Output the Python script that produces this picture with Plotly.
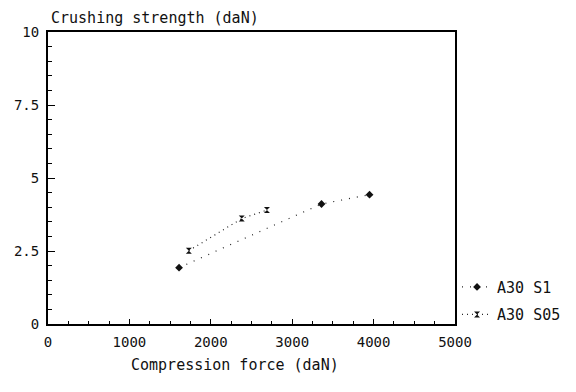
import plotly.graph_objects as go

# Data
s1_name = "A30 S1"
s1_force = [1610, 3360, 3950]
s1_strength = [1.93, 4.11, 4.43]

s05_name = "A30 S05"
s05_force = [1730, 2380, 2690]
s05_strength = [2.51, 3.61, 3.90]

x_title = "Compression force (daN)"
y_title = "Crushing strength (daN)"

FONT = "DejaVu Sans Mono"

fig = go.Figure()
fig.add_trace(go.Scatter(
    x=s1_force, y=s1_strength, name=s1_name, mode="lines+markers",
    legendgroup="a",
    line=dict(color="#222", width=1.2, dash="1px,7px"),
    marker=dict(symbol="diamond", size=6, color="#111"),
))
fig.add_trace(go.Scatter(
    x=s05_force, y=s05_strength, name=s05_name, mode="lines+markers",
    legendgroup="b",
    line=dict(color="#222", width=1.2, dash="1px,4px"),
    marker=dict(symbol="hourglass", size=6, color="#111"),
))

axis_common = dict(
    showline=True, linecolor="black", linewidth=2, mirror=True,
    showgrid=False, zeroline=False, ticks="inside", tickcolor="black",
    automargin=False,
    tickfont=dict(family=FONT, size=14, color="#111"),
)

fig.update_xaxes(
    range=[0, 5000], dtick=1000, tick0=0, ticklen=5, tickwidth=1.2,
    ticklabelstandoff=4,
    minor=dict(dtick=250, ticks="inside", ticklen=3, tickcolor="black", tickwidth=1),
    **axis_common,
)
fig.update_yaxes(
    range=[0, 10], dtick=2.5, tick0=0, ticklen=7, tickwidth=1.2,
    ticklabelstandoff=4,
    minor=dict(dtick=0.5, ticks="inside", ticklen=4, tickcolor="black", tickwidth=1),
    **axis_common,
)

fig.add_annotation(
    text=y_title, xref="paper", yref="paper", x=0.003, y=1.0,
    yshift=14, xanchor="left", yanchor="middle", showarrow=False,
    font=dict(family=FONT, size=15, color="#111"),
)
fig.add_annotation(
    text=x_title, xref="paper", yref="paper", x=0.46, y=-0.14,
    xanchor="center", yanchor="middle", showarrow=False,
    font=dict(family=FONT, size=15, color="#111"),
)

fig.update_layout(
    width=576, height=392,
    margin=dict(l=40, r=129, t=24, b=76),
    paper_bgcolor="white", plot_bgcolor="white",
    showlegend=True,
    legend=dict(
        x=1.005, xanchor="left", y=0.08, yanchor="middle",
        font=dict(family=FONT, size=15, color="#111"),
        tracegroupgap=5, bgcolor="rgba(0,0,0,0)",
    ),
)

fig.write_html("out.html")
